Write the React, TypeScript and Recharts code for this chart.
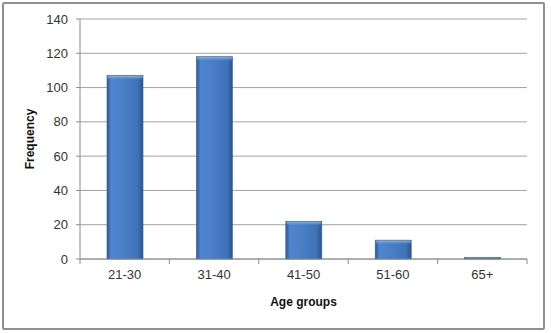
import React from 'react';
import { BarChart, Bar, XAxis, YAxis, CartesianGrid, Label } from 'recharts';

const ageGroups = ['21-30', '31-40', '41-50', '51-60', '65+'];
const frequencies = [107, 118, 22, 11, 1];
const yTicks = [0, 20, 40, 60, 80, 100, 120, 140];

const chartData = ageGroups.map((group, i) => ({ group, frequency: frequencies[i] }));

const FONT = '"Liberation Sans", Arial, sans-serif';
const AXIS_GREY = '#8c8c8c';

function BevelBar(props: any) {
  const { x, y, width, height } = props;
  if (!height || height <= 0) return null;
  const bevel = Math.min(4, height / 2);
  return (
    <g>
      <rect x={x} y={y} width={width} height={height} fill="url(#barBody)" stroke="#2f5d93" strokeWidth={0.6} />
      <rect x={x + 0.5} y={y + 0.5} width={width - 1} height={bevel} fill="url(#barTop)" />
    </g>
  );
}

function CategoryTick(props: any) {
  const { x, y, payload, index, visibleTicksCount } = props;
  const half = payload?.offset ?? 44.8;
  const top = y - 8;
  return (
    <g>
      <line x1={x - half} y1={top} x2={x - half} y2={top + 5} stroke={AXIS_GREY} />
      {index === visibleTicksCount - 1 && (
        <line x1={x + half} y1={top} x2={x + half} y2={top + 5} stroke={AXIS_GREY} />
      )}
      <text x={x} y={y + 12} textAnchor="middle" fill="#333" fontSize={13} fontFamily={FONT}>
        {payload.value}
      </text>
    </g>
  );
}

export default function App() {
  return (
    <div style={{ position: 'absolute', left: 0, top: 0, width: 551, height: 333, background: '#fff' }}>
      <div
        style={{
          position: 'absolute',
          left: 2,
          top: 2,
          width: 539,
          height: 324,
          border: '2px solid #8f8f8f',
          borderRadius: 2,
        }}
      />
      <div style={{ position: 'absolute', left: 0, top: 0 }}>
        <BarChart width={551} height={333} data={chartData} margin={{ top: 19, right: 24, bottom: 0, left: 0 }}>
          <defs>
            <linearGradient id="barBody" x1="0" y1="0" x2="1" y2="0">
              <stop offset="0%" stopColor="#2c5a94" />
              <stop offset="12%" stopColor="#4f86cf" />
              <stop offset="40%" stopColor="#4a80c8" />
              <stop offset="85%" stopColor="#3f73b8" />
              <stop offset="100%" stopColor="#2a5590" />
            </linearGradient>
            <linearGradient id="barTop" x1="0" y1="0" x2="0" y2="1">
              <stop offset="0%" stopColor="#8fb6ea" />
              <stop offset="100%" stopColor="#4f86cf" stopOpacity={0} />
            </linearGradient>
          </defs>
          <CartesianGrid vertical={false} stroke="#8a8a8a" strokeWidth={0.8} />
          <XAxis
            dataKey="group"
            height={74}
            stroke={AXIS_GREY}
            tickLine={false}
            tick={<CategoryTick />}
            interval={0}
          >
            <Label
              value="Age groups"
              position="insideBottom"
              offset={27}
              style={{ fontFamily: FONT, fontSize: 12, fontWeight: 'bold', fill: '#111' }}
            />
          </XAxis>
          <YAxis
            width={80}
            domain={[0, 140]}
            ticks={yTicks}
            interval={0}
            stroke={AXIS_GREY}
            tickSize={4}
            tickMargin={8}
            tick={{ fill: '#333', fontSize: 13, fontFamily: FONT }}
          >
            <Label
              value="Frequency"
              angle={-90}
              position="center"
              dx={-10}
              style={{ fontFamily: FONT, fontSize: 12, fontWeight: 'bold', fill: '#111', textAnchor: 'middle' }}
            />
          </YAxis>
          <Bar dataKey="frequency" barSize={36} shape={<BevelBar />} isAnimationActive={false} />
        </BarChart>
      </div>
    </div>
  );
}
